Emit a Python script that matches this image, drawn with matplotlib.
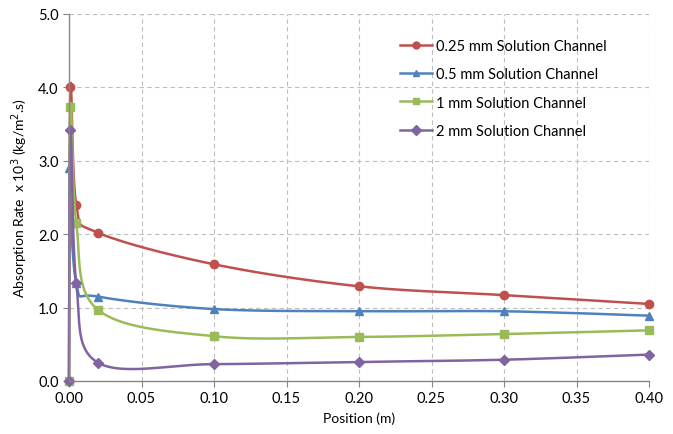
import matplotlib.pyplot as plt
import numpy as np

plt.rcParams['font.family'] = ['Lato', 'DejaVu Sans']

# data
x_red = [0.0, 0.001, 0.005, 0.02, 0.1, 0.2, 0.3, 0.4]
y_red = [0.0, 4.0, 2.40, 2.02, 1.59, 1.29, 1.17, 1.05]

x_blue = [0.0, 0.005, 0.02, 0.1, 0.2, 0.3, 0.4]
y_blue = [2.90, 1.33, 1.15, 0.98, 0.95, 0.95, 0.89]

x_green = [0.0, 0.001, 0.005, 0.02, 0.1, 0.2, 0.3, 0.4]
y_green = [0.0, 3.73, 2.15, 0.97, 0.61, 0.60, 0.64, 0.69]

x_purple = [0.0, 0.001, 0.005, 0.02, 0.1, 0.2, 0.3, 0.4]
y_purple = [0.0, 3.42, 1.33, 0.25, 0.23, 0.26, 0.29, 0.36]

labels = ["0.25 mm Solution Channel", "0.5 mm Solution Channel",
          "1 mm Solution Channel", "2 mm Solution Channel"]
colors = ["#C0504D", "#4F81BD", "#9BBB59", "#8064A2"]
markers = ["o", "^", "s", "D"]

XMAX, YMAX = 0.40, 5.0
# axes size in pixels, used to smooth in screen space like Excel does
W, H = 580.0, 367.0


def smooth(xs, ys, n=30):
    px = np.array(xs) / XMAX * W
    py = np.array(ys) / YMAX * H
    outx, outy = [], []
    m = len(px)
    for i in range(m - 1):
        p0 = np.array([px[max(i - 1, 0)], py[max(i - 1, 0)]])
        p1 = np.array([px[i], py[i]])
        p2 = np.array([px[i + 1], py[i + 1]])
        p3 = np.array([px[min(i + 2, m - 1)], py[min(i + 2, m - 1)]])
        c1 = p1 + (p2 - p0) / 6.0
        c2 = p2 - (p3 - p1) / 6.0
        t = np.linspace(0, 1, n)[:, None]
        pts = ((1 - t) ** 3) * p1 + 3 * ((1 - t) ** 2) * t * c1 + 3 * (1 - t) * t ** 2 * c2 + t ** 3 * p2
        outx.extend(pts[:, 0])
        outy.extend(pts[:, 1])
    return np.array(outx) / W * XMAX, np.array(outy) / H * YMAX


fig = plt.figure(figsize=(6.73, 4.35), dpi=100)
ax = fig.add_axes([69 / 673, 53 / 435, 580 / 673, 367 / 435])

series = [(x_red, y_red), (x_blue, y_blue), (x_green, y_green), (x_purple, y_purple)]
for (xs, ys), c, mk, lab in zip(series, colors, markers, labels):
    sx, sy = smooth(xs, ys)
    ax.plot(sx, sy, color=c, lw=1.8, clip_on=False)
    ax.plot(xs, ys, linestyle="none", marker=mk, color=c, ms=6 if mk != "D" else 5.5, clip_on=False)
    ax.plot([], [], color=c, lw=1.8, marker=mk, ms=5, label=lab)

ax.set_xlim(0, XMAX)
ax.set_ylim(0, YMAX)
ax.set_xticks(np.arange(0, 0.401, 0.05))
ax.set_yticks(np.arange(0, 5.01, 1.0))
ax.xaxis.set_major_formatter(plt.FormatStrFormatter('%.2f'))
ax.yaxis.set_major_formatter(plt.FormatStrFormatter('%.1f'))
ax.grid(True, color="#BEBEBE", linestyle=(0, (4, 3)), lw=0.8)
ax.set_axisbelow(True)
for s in ["top", "right"]:
    ax.spines[s].set_visible(False)
for s in ["left", "bottom"]:
    ax.spines[s].set_color("#868686")
    ax.spines[s].set_linewidth(1.0)
ax.tick_params(colors="#868686", labelcolor="black", labelsize=10.5, length=4)
ax.set_xlabel("Position (m)", fontsize=10, labelpad=4)
ax.set_ylabel("Absorption Rate  x 10$^3$ (kg/m$^2$.s)", fontsize=10, labelpad=6)

ax.legend(loc="upper right", bbox_to_anchor=(0.95, 0.967), frameon=False, fontsize=10.5,
          handlelength=2.2, labelspacing=0.97, handletextpad=0.3)

fig.savefig("out.png", dpi=100)
